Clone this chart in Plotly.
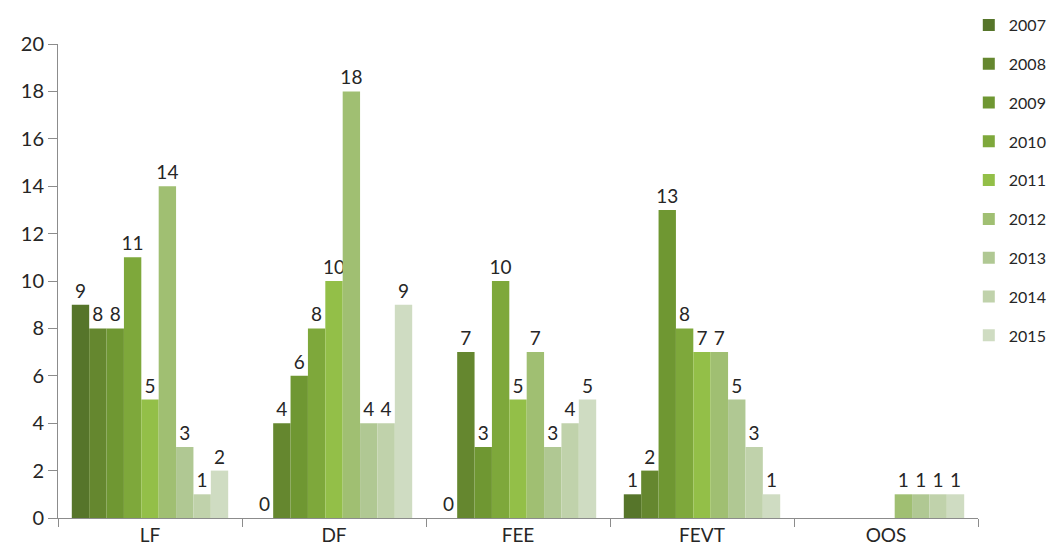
import plotly.graph_objects as go

categories = ["LF", "DF", "FEE", "FEVT", "OOS"]
years = ["2007", "2008", "2009", "2010", "2011", "2012", "2013", "2014", "2015"]
v2007 = [9, 0, 0, 1, None]
v2008 = [8, 4, 7, 2, None]
v2009 = [8, 6, 3, 13, None]
v2010 = [11, 8, 10, 8, None]
v2011 = [5, 10, 5, 7, None]
v2012 = [14, 18, 7, 7, 1]
v2013 = [3, 4, 3, 5, 1]
v2014 = [1, 4, 4, 3, 1]
v2015 = [2, 9, 5, 1, 1]
series = [v2007, v2008, v2009, v2010, v2011, v2012, v2013, v2014, v2015]
colors = ["#56752a", "#65872f", "#6f9732", "#7ea83b", "#93bf48",
          "#a0bf72", "#b0c893", "#c0d2ab", "#cfdcc2"]

font_family = "Lato, Open Sans, sans-serif"

fig = go.Figure()
for y, vals, c in zip(years, series, colors):
    fig.add_trace(go.Bar(
        name=y, x=categories, y=vals,
        marker=dict(color=c, line=dict(width=0)),
        text=[("" if v is None else str(v)) for v in vals],
        textposition="outside", cliponaxis=False, constraintext="none",
        textfont=dict(size=19, color="#262626", family=font_family),
        legendgroup=y,
    ))

fig.update_layout(
    width=1050, height=541,
    margin=dict(l=50, r=80, t=36, b=31, autoexpand=False),
    paper_bgcolor="white", plot_bgcolor="white",
    barmode="group", bargap=0.15, bargroupgap=0,
    font=dict(family=font_family, size=19, color="#262626"),
    showlegend=True,
    legend=dict(x=0.99, y=1.076, xanchor="left", yanchor="top",
                tracegroupgap=15, font=dict(size=16),
                itemwidth=30, traceorder="grouped", maxheight=500),
)
fig.update_xaxes(
    showline=True, linecolor="#8c8c8c", linewidth=1,
    ticks="outside", tickson="boundaries", ticklen=8, tickcolor="#8c8c8c",
    showgrid=False, tickfont=dict(size=19),
)
fig.update_yaxes(
    range=[0, 20], dtick=2, showline=True, linecolor="#8c8c8c", linewidth=1,
    ticks="outside", ticklen=9, tickcolor="#8c8c8c", showgrid=False,
    zeroline=False, tickfont=dict(size=20),
)

fig.write_html("out.html")
